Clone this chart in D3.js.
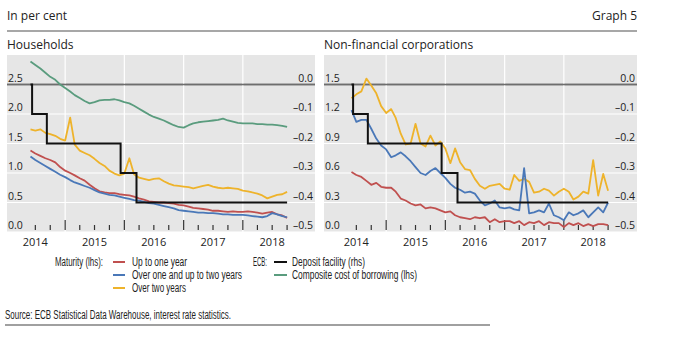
<!DOCTYPE html>
<html><head><meta charset="utf-8">
<script src="https://cdn.jsdelivr.net/npm/d3@7"></script>
<style>
body{margin:0;background:#fff;}
text{font-family:"Open Sans","Noto Sans",sans-serif;fill:#222;}
.narrow{font-family:"Liberation Sans Narrow","Arial Narrow","Liberation Sans",sans-serif;}
</style></head>
<body><svg id="c" width="680" height="360"></svg>
<script>
// ---------- DATA (monthly, Jun 2014 – Oct 2018) ----------
const startMonth = 5;           // June 2014 (month index from Jan 2014)
const nMonths = 53;
const hhUpToOne = [1.38,1.33,1.29,1.25,1.22,1.18,1.10,1.04,1.00,0.96,0.91,0.87,0.80,0.74,0.69,0.67,0.66,0.66,0.64,0.63,0.62,0.60,0.57,0.55,0.52,0.51,0.50,0.50,0.49,0.48,0.46,0.45,0.43,0.41,0.40,0.39,0.38,0.36,0.36,0.35,0.34,0.35,0.34,0.34,0.35,0.34,0.33,0.31,0.33,0.34,0.30,0.28,0.24];
const hhOneToTwo = [1.28,1.22,1.17,1.12,1.07,1.02,0.97,0.93,0.88,0.84,0.81,0.78,0.75,0.71,0.67,0.65,0.63,0.62,0.60,0.58,0.56,0.54,0.53,0.51,0.49,0.48,0.46,0.44,0.42,0.40,0.37,0.36,0.35,0.34,0.33,0.33,0.32,0.32,0.31,0.30,0.30,0.29,0.29,0.29,0.28,0.27,0.26,0.25,0.27,0.32,0.30,0.27,0.25];
const hhOverTwo = [1.74,1.72,1.74,1.68,1.66,1.63,1.58,1.55,1.94,1.48,1.38,1.34,1.30,1.24,1.17,1.12,1.04,0.99,0.96,0.99,1.25,0.98,0.92,0.90,0.88,0.90,0.91,0.86,0.82,0.79,0.78,0.77,0.76,0.74,0.76,0.78,0.80,0.77,0.75,0.74,0.75,0.74,0.73,0.70,0.69,0.67,0.65,0.62,0.57,0.60,0.63,0.64,0.68];
const hhComposite = [2.89,2.83,2.77,2.70,2.63,2.58,2.50,2.44,2.38,2.32,2.27,2.22,2.18,2.20,2.23,2.24,2.24,2.25,2.23,2.20,2.18,2.14,2.09,2.04,1.99,1.95,1.92,1.89,1.85,1.81,1.78,1.77,1.81,1.84,1.86,1.87,1.88,1.89,1.90,1.92,1.89,1.87,1.85,1.84,1.84,1.84,1.83,1.83,1.82,1.82,1.81,1.80,1.78];
const nfcUpToOne = [0.61,0.58,0.56,0.52,0.48,0.50,0.46,0.45,0.45,0.41,0.34,0.32,0.29,0.27,0.28,0.24,0.25,0.24,0.22,0.20,0.21,0.17,0.15,0.14,0.13,0.15,0.14,0.15,0.10,0.13,0.10,0.11,0.11,0.09,0.11,0.07,0.10,0.09,0.11,0.07,0.10,0.09,0.09,0.05,0.09,0.07,0.09,0.06,0.08,0.06,0.08,0.08,0.07];
const nfcOneToTwo = [1.24,1.12,1.14,1.14,1.05,0.95,0.88,0.84,0.76,0.78,0.81,0.77,0.72,0.66,0.60,0.58,0.62,0.65,0.60,0.55,0.49,0.45,0.43,0.40,0.41,0.39,0.32,0.27,0.29,0.32,0.25,0.24,0.25,0.23,0.22,0.65,0.19,0.20,0.22,0.20,0.29,0.17,0.15,0.12,0.20,0.17,0.19,0.22,0.15,0.20,0.25,0.20,0.30];
const nfcOverTwo = [1.36,1.40,1.43,1.56,1.49,1.41,1.28,1.21,1.25,1.16,1.00,0.89,0.90,1.10,0.90,0.87,0.98,0.88,0.92,0.85,0.70,0.85,0.71,0.64,0.63,0.54,0.47,0.44,0.47,0.48,0.49,0.44,0.43,0.58,0.52,0.54,0.51,0.40,0.41,0.44,0.42,0.37,0.41,0.44,0.41,0.33,0.36,0.41,0.39,0.73,0.37,0.59,0.42];
const depositDates = ["2014-06-01","2014-06-11","2014-09-10","2015-12-09","2016-03-16","2018-10-01"];
const depositRates = [0.0,-0.1,-0.2,-0.3,-0.4,-0.4];
const years = [2014,2015,2016,2017,2018];
const hhLhsTicks = [0.0,0.5,1.0,1.5,2.0,2.5];
const nfcLhsTicks = [0.0,0.3,0.6,0.9,1.2,1.5];
const rhsTicks = [0.0,-0.1,-0.2,-0.3,-0.4,-0.5];

const colors = {red:"#c0504f", blue:"#4a78b8", yellow:"#eeb32b", green:"#5a9c7e", black:"#111"};

const svg = d3.select("#c");
const months = d3.range(nMonths).map(i => new Date(2014, startMonth + i, 1));
const deposit = depositDates.map((d,i)=>({date:new Date(d), v:depositRates[i]}));

// header
svg.append("text").attr("x",7).attr("y",20).style("font-size","12px").text("In per cent");
svg.append("text").attr("x",637).attr("y",20).attr("text-anchor","end").style("font-size","12px").text("Graph 5");
svg.append("line").attr("x1",7).attr("x2",637).attr("y1",31).attr("y2",31).attr("stroke","#8a8a8a").attr("stroke-width",1.5);

function panel(opt){
  const g = svg.append("g");
  const top = 55, bottom = 232;
  const x = d3.scaleTime().domain([new Date(2014,0,1), new Date(2019,0,1)]).range([opt.x0, opt.x0+296]);
  const yL = d3.scaleLinear().domain([0, opt.lhsMax]).range([bottom, top]);
  const yR = d3.scaleLinear().domain([-0.5, 0.1]).range([bottom, top]);
  g.append("rect").attr("x",opt.bx0).attr("y",top).attr("width",opt.bx1-opt.bx0).attr("height",bottom-top).attr("fill","#e6e6e6");
  rhsTicks.forEach(t=>{
    g.append("line").attr("x1",opt.bx0).attr("x2",opt.bx1).attr("y1",yR(t)).attr("y2",yR(t))
      .attr("stroke", t===0 ? "#6e6e6e" : "#fff").attr("stroke-width", t===0 ? 1.6 : 1.2);
  });
  years.slice(1).forEach(yr=>{
    const xv = x(new Date(yr,0,1));
    g.append("line").attr("x1",xv).attr("x2",xv).attr("y1",top).attr("y2",bottom).attr("stroke","#fff").attr("stroke-width",1.2);
  });
  g.append("line").attr("x1",opt.bx0).attr("x2",opt.bx1).attr("y1",yR(0)).attr("y2",yR(0)).attr("stroke","#6e6e6e").attr("stroke-width",1.6);
  const ticks = d3.timeMonth.every(3).range(new Date(2014,6,1), new Date(2018,10,1));
  ticks.forEach(d=>{
    const major = d.getMonth()===0;
    g.append("line").attr("x1",x(d)).attr("x2",x(d)).attr("y1",bottom-(major?12:7)).attr("y2",bottom-2)
      .attr("stroke","#333").attr("stroke-width",1.2);
  });
  years.forEach(yr=>{
    g.append("text").attr("x",x(new Date(yr,6,1))).attr("y",bottom+14).attr("text-anchor","middle")
      .style("font-size","11px").text(yr);
  });
  opt.lhsTicks.forEach(t=>{
    g.append("text").attr("x",opt.bx0+1).attr("y",yL(t)-3).style("font-size","10.5px").text(t.toFixed(1));
  });
  rhsTicks.forEach(t=>{
    g.append("text").attr("x",opt.bx1-2).attr("y",yR(t)-3).attr("text-anchor","end").style("font-size","10.5px")
      .text(t===0 ? "0.0" : "\u2013" + Math.abs(t).toFixed(1));
  });
  const line = d3.line().x((d,i)=>x(months[i])).y(d=>yL(d));
  opt.series.forEach(s=>{
    g.append("path").datum(s.data).attr("d",line).attr("fill","none").attr("stroke",s.color).attr("stroke-width",1.8).attr("stroke-linejoin","round");
  });
  const dl = d3.line().x(d=>x(d.date)).y(d=>yR(d.v)).curve(d3.curveStepAfter);
  g.append("path").datum(deposit).attr("d",dl).attr("fill","none").attr("stroke",colors.black).attr("stroke-width",2);
  svg.append("text").attr("x",opt.bx0).attr("y",49).style("font-size","12px").text(opt.title);
}

panel({x0:6, bx0:7, bx1:315, lhsMax:3.0, lhsTicks:hhLhsTicks, title:"Households",
  series:[{data:hhComposite,color:colors.green},{data:hhOverTwo,color:colors.yellow},{data:hhUpToOne,color:colors.red},{data:hhOneToTwo,color:colors.blue}]});
panel({x0:327, bx0:324, bx1:637, lhsMax:1.8, lhsTicks:nfcLhsTicks, title:"Non-financial corporations",
  series:[{data:nfcOverTwo,color:colors.yellow},{data:nfcOneToTwo,color:colors.blue},{data:nfcUpToOne,color:colors.red}]});

// legend
const lg = svg.append("g");
function ltext(x,y,t,w,anchor){
  const el = lg.append("text").attr("class","narrow").attr("x",x).attr("y",y+4).style("font-size","12px").text(t)
    .attr("textLength",w).attr("lengthAdjust","spacingAndGlyphs");
  if(anchor) el.attr("text-anchor",anchor);
}
function swatch(x1,x2,y,c){ lg.append("line").attr("x1",x1).attr("x2",x2).attr("y1",y).attr("y2",y).attr("stroke",c).attr("stroke-width",2); }
ltext(103,262,"Maturity (lhs):",48,"end");
swatch(113,125,262,colors.red); ltext(132,262,"Up to one year",55);
swatch(113,125,275,colors.blue); ltext(132,275,"Over one and up to two years",110);
swatch(113,125,288,colors.yellow); ltext(132,288,"Over two years",54);
ltext(253,262,"ECB:",14);
swatch(274,287,262,colors.black); ltext(292,262,"Deposit facility (rhs)",73);
swatch(274,287,275,colors.green); ltext(292,275,"Composite cost of borrowing (lhs)",125);

// source
svg.append("text").attr("class","narrow").attr("x",5).attr("y",319).style("font-size","12px")
  .attr("textLength",226).attr("lengthAdjust","spacingAndGlyphs")
  .text("Source: ECB Statistical Data Warehouse, interest rate statistics.");
svg.append("line").attr("x1",5).attr("x2",490).attr("y1",325).attr("y2",325).attr("stroke","#a0a0a0").attr("stroke-width",2);
</script></body></html>
